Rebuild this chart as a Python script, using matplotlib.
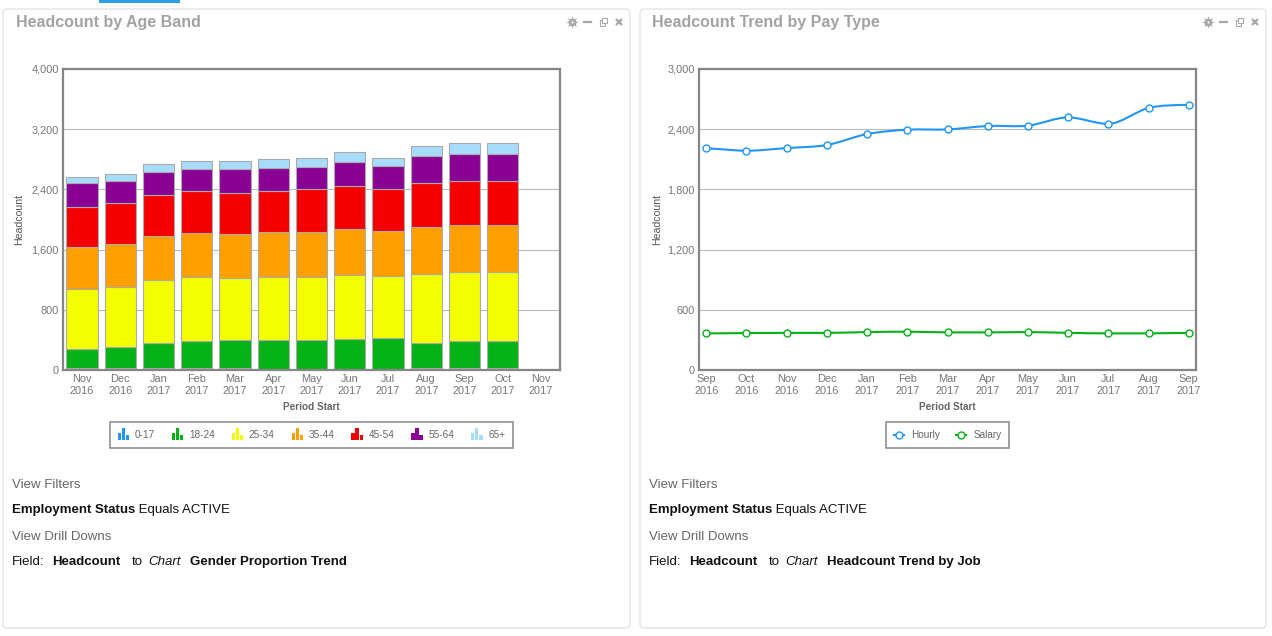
import numpy as np
import matplotlib
matplotlib.use('Agg')
import matplotlib.pyplot as plt
from matplotlib.legend_handler import HandlerBase
from matplotlib.lines import Line2D
from matplotlib.patches import FancyBboxPatch, PathPatch, Rectangle
from matplotlib.path import Path

plt.rcParams['font.family'] = ['Liberation Sans', 'DejaVu Sans']

# left chart
age_months = ['Nov\n2016', 'Dec\n2016', 'Jan\n2017', 'Feb\n2017', 'Mar\n2017', 'Apr\n2017', 'May\n2017',
              'Jun\n2017', 'Jul\n2017', 'Aug\n2017', 'Sep\n2017', 'Oct\n2017', 'Nov\n2017']
age_bands = ['0-17', '18-24', '25-34', '35-44', '45-54', '55-64', '65+']
age_colors = ['#2196f3', '#04b218', '#f3ff00', '#ff9f00', '#f50000', '#8b0094', '#a8dcfb']
band_0_17 = [24, 24, 24, 24, 24, 8, 8, 8, 8, 30, 30, 30, 0]
band_18_24 = [253, 280, 333, 360, 373, 389, 385, 403, 421, 327, 354, 354, 0]
band_25_34 = [796, 796, 836, 849, 823, 836, 840, 853, 822, 916, 916, 916, 0]
band_35_44 = [560, 573, 587, 587, 587, 600, 600, 613, 600, 631, 631, 631, 0]
band_45_54 = [538, 543, 543, 556, 550, 551, 570, 574, 552, 587, 586, 586, 0]
band_55_64 = [316, 301, 310, 297, 316, 307, 301, 316, 310, 356, 356, 356, 0]
band_65 = [84, 94, 103, 98, 98, 112, 112, 124, 98, 129, 138, 138, 0]
age_ticks = [0, 800, 1600, 2400, 3200, 4000]

# right chart
pay_months = ['Sep\n2016', 'Oct\n2016', 'Nov\n2016', 'Dec\n2016', 'Jan\n2017', 'Feb\n2017', 'Mar\n2017',
              'Apr\n2017', 'May\n2017', 'Jun\n2017', 'Jul\n2017', 'Aug\n2017', 'Sep\n2017']
hourly = [2208, 2185, 2212, 2242, 2352, 2395, 2398, 2432, 2435, 2518, 2452, 2612, 2642]
salary = [365, 368, 370, 370, 378, 382, 375, 375, 378, 370, 365, 365, 370]
pay_ticks = [0, 600, 1200, 1800, 2400, 3000]

W, H = 1272, 636
fig = plt.figure(figsize=(W / 100, H / 100), dpi=100)


def px(n):
    # css pixels to points
    return n * 0.72


def axes_at(x0, y0, x1, y1):
    return fig.add_axes([x0 / W, 1 - y1 / H, (x1 - x0) / W, (y1 - y0) / H])


class BarsIcon(HandlerBase):
    def create_artists(self, legend, orig, xd, yd, width, height, fontsize, trans):
        out = []
        for i, h in enumerate([0.6, 1.0, 0.45]):
            out.append(Rectangle((-xd + i * width * 0.37, -yd - 1.5), width * 0.3, 8.5 * h,
                                 facecolor=orig.get_facecolor(), transform=trans))
        return out


# page background stuff, in pixel coords
bg = fig.add_axes([0, 0, 1, 1], zorder=-1)
bg.set_xlim(0, W)
bg.set_ylim(H, 0)
bg.axis('off')
bg.add_patch(Rectangle((99, 0), 81, 3, color='#2b9fe8', lw=0))


def panel(x0, x1, title, title_x, icon_x, text_x, drill_target):
    bg.add_patch(FancyBboxPatch((x0 + 4, 13), x1 - x0 - 8, 611, boxstyle='round,pad=4',
                                facecolor='white', edgecolor='#dddddd', lw=0.8))
    bg.text(title_x, 22, title, fontsize=px(16), fontweight='bold', color='#a3a3a3', va='center')
    # header icons
    ic = '#a8a8a8'
    bg.plot(icon_x, 22, marker=(8, 1, 0), ms=9, color=ic, mew=0)
    bg.plot(icon_x, 22, marker='o', ms=5, color=ic, mew=0)
    bg.plot(icon_x, 22, marker='o', ms=1.5, color='white', mew=0)
    bg.plot([icon_x + 12, icon_x + 19], [22, 22], color=ic, lw=1.6)
    bg.add_patch(Rectangle((icon_x + 28, 20), 5, 6, fill=False, ec=ic, lw=0.8))
    bg.add_patch(Rectangle((icon_x + 30, 18), 5, 5, facecolor='white', ec=ic, lw=0.8))
    bg.plot(icon_x + 47, 22, marker='x', ms=4.5, mew=1.6, color=ic)

    fs = px(13.2)
    dark = '#111111'
    bg.text(text_x, 485, 'View Filters', fontsize=fs, color='#666666', va='center')
    t = bg.text(text_x, 510, 'Employment Status', fontsize=fs, fontweight='bold', color=dark, va='center')
    bg.annotate(' Equals ACTIVE', xy=(1, 0.5), xycoords=t, fontsize=fs, color=dark, va='center')
    bg.text(text_x, 537, 'View Drill Downs', fontsize=fs, color='#666666', va='center')
    bg.text(text_x, 562, 'Field:', fontsize=fs, color=dark, va='center')
    bg.text(text_x + 40, 562, 'Headcount', fontsize=fs, fontweight='bold', color=dark, va='center')
    bg.text(text_x + 120, 562, 'to', fontsize=fs, color=dark, va='center')
    bg.text(text_x + 136, 562, 'Chart', fontsize=fs, style='italic', color=dark, va='center')
    bg.text(text_x + 178, 562, drill_target, fontsize=fs, fontweight='bold', color=dark, va='center')


panel(3, 630, 'Headcount by Age Band', 16, 572, 12, 'Gender Proportion Trend')
panel(640, 1266, 'Headcount Trend by Pay Type', 652, 1208, 649, 'Headcount Trend by Job')


def style_axes(ax, ticks, labels, ylabel_pad):
    ax.set_facecolor('white')
    ax.set_yticks(ticks)
    ax.set_yticklabels([f'{t:,}' for t in ticks])
    ax.set_xticks(range(len(labels)))
    ax.set_xticklabels(labels, linespacing=1.25)
    ax.tick_params(length=0, labelsize=px(11), labelcolor='#777777', pad=3)
    ax.set_axisbelow(True)
    ax.grid(axis='y', color='#bbbbbb', lw=0.8)
    for s in ax.spines.values():
        s.set_color('#868686')
        s.set_linewidth(1.6)
        s.set_zorder(5)
    ax.set_xlabel('Period Start', fontsize=px(10), fontweight='bold', color='#666666', labelpad=4)
    ax.set_ylabel('Headcount', fontsize=px(10.5), color='#555555', labelpad=ylabel_pad)


# stacked bars
ax1 = axes_at(63, 69, 560, 370)
stack = [band_0_17, band_18_24, band_25_34, band_35_44, band_45_54, band_55_64, band_65]
bottom = np.zeros(len(age_months))
handles = []
for name, vals, col in zip(age_bands, stack, age_colors):
    b = ax1.bar(range(len(age_months)), vals, width=0.82, bottom=bottom, color=col,
                edgecolor='#aaaaaa', linewidth=0.8, label=name)
    handles.append(b[0])
    bottom += np.array(vals)
ax1.set_xlim(-0.5, 12.5)
ax1.set_ylim(0, 4000)
style_axes(ax1, age_ticks, age_months, 5)
leg1 = ax1.legend(handles, age_bands, handler_map={h: BarsIcon() for h in handles}, ncols=7,
                  loc='center', bbox_to_anchor=(311.5 / W, 1 - 435 / H), bbox_transform=fig.transFigure,
                  fontsize=px(10), labelcolor='#666666', fancybox=False, framealpha=1, edgecolor='#999999',
                  columnspacing=1.7, handlelength=1.1, handletextpad=0.6, borderpad=0.8, borderaxespad=0)
leg1.get_frame().set_linewidth(1.3)


def smooth_path(xs, ys, k=0.3):
    # bezier through the data points, flat tangent at local extremes
    verts = [(xs[0], ys[0])]
    codes = [Path.MOVETO]
    n = len(xs)
    slopes = np.zeros(n)
    for i in range(1, n - 1):
        a, b = ys[i] - ys[i - 1], ys[i + 1] - ys[i]
        slopes[i] = 0 if a * b <= 0 else (ys[i + 1] - ys[i - 1]) / 2
    for i in range(n - 1):
        verts += [(xs[i] + k, ys[i] + slopes[i] * k), (xs[i + 1] - k, ys[i + 1] - slopes[i + 1] * k),
                  (xs[i + 1], ys[i + 1])]
        codes += [Path.CURVE4] * 3
    return Path(verts, codes)


# trend lines
ax2 = axes_at(699, 69, 1196, 370)
xs = np.arange(len(pay_months))
line_handles = []
for name, vals, col in [('Hourly', hourly, '#2196f3'), ('Salary', salary, '#04b218')]:
    ax2.add_patch(PathPatch(smooth_path(xs, vals), fill=False, edgecolor=col, lw=1.5, zorder=3))
    ax2.plot(xs, vals, ls='none', marker='o', ms=5, mfc='white', mec=col, mew=1, zorder=4, clip_on=False)
    line_handles.append(Line2D([], [], color=col, lw=1.5, marker='o', ms=5, mfc='white', mec=col, mew=1))
ax2.set_xlim(-0.18, 12.18)
ax2.set_ylim(0, 3000)
style_axes(ax2, pay_ticks, pay_months, 4)
leg2 = ax2.legend(line_handles, ['Hourly', 'Salary'], ncols=2, loc='center',
                  bbox_to_anchor=(948 / W, 1 - 435 / H), bbox_transform=fig.transFigure,
                  fontsize=px(10), labelcolor='#666666', fancybox=False, framealpha=1, edgecolor='#999999',
                  columnspacing=1.6, handlelength=1.0, handletextpad=0.7, borderpad=0.8, borderaxespad=0)
leg2.get_frame().set_linewidth(1.3)

fig.savefig('out.png', dpi=100)
